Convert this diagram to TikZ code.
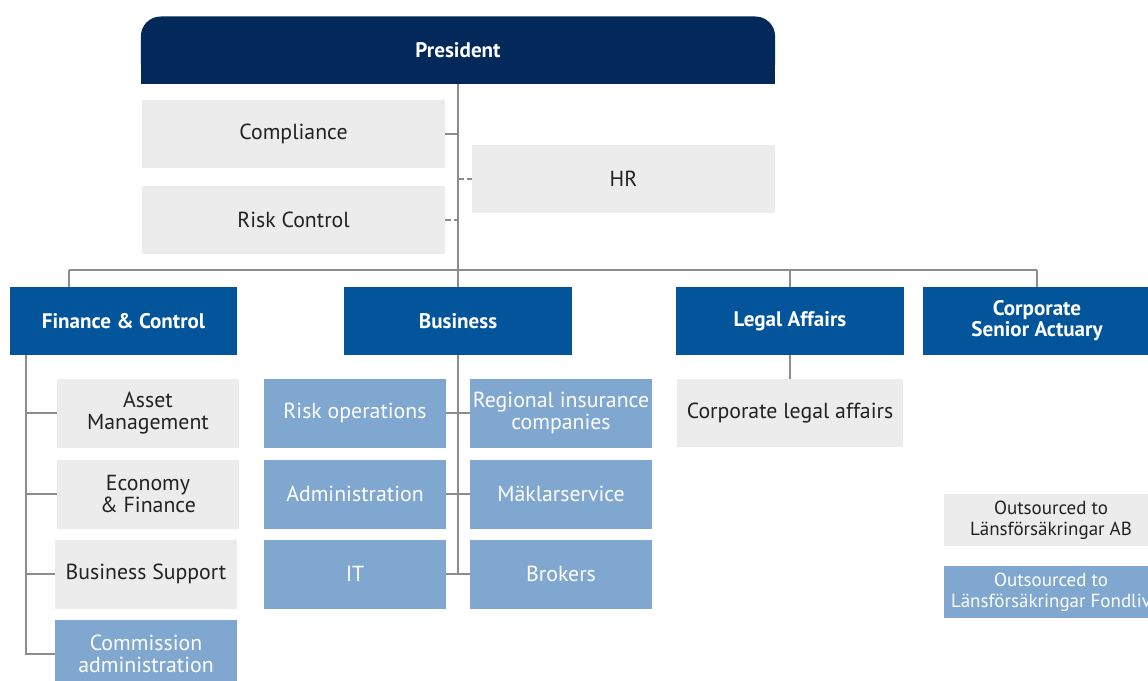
\documentclass[tikz,border=0pt]{standalone}
\usepackage{fontspec}
\setmainfont{PT Sans}
\usetikzlibrary{positioning}
\definecolor{PresNavy}{HTML}{03295A}
\definecolor{UnitBlue}{HTML}{02549B}
\definecolor{OutBlue}{HTML}{7FA7D0}
\definecolor{StaffGrey}{HTML}{ECECEC}
\definecolor{LinkGrey}{HTML}{8C8C8C}
\definecolor{Ink}{HTML}{222222}

\tikzset{
  unit/.style={
    fill=UnitBlue,
    text=white,
    font=\bfseries\fontsize{15}{15}\selectfont,
    align=center,
    inner sep=0pt,
    minimum width=5.675cm,
    minimum height=1.7cm
  },
  staff/.style={
    fill=StaffGrey,
    text=Ink,
    font=\fontsize{15.5}{15.5}\selectfont,
    align=center,
    inner sep=0pt,
    minimum width=4.55cm,
    minimum height=1.725cm
  },
  outsourced/.style={
    staff,
    fill=OutBlue,
    text=white
  },
  keybox/.style={
    font=\fontsize{13.5}{15}\selectfont,
    minimum width=5.35cm,
    minimum height=1.3cm
  },
  link/.style={draw=LinkGrey, line width=1.6pt},
  dottedlink/.style={link, dash pattern=on 4pt off 2.5pt}
}

\begin{document}
\begin{tikzpicture}[x=0.025cm, y=-0.025cm]
  \useasboundingbox (0,0) rectangle (1148,680);
  \clip (0,0) rectangle (1148,680);

  % top of the tree
  \node[fill=PresNavy, text=white, rounded corners=14pt, inner sep=0pt,
        minimum width=15.85cm, minimum height=1.675cm,
        font=\bfseries\fontsize{15}{15}\selectfont] (pres) at (458,50) {President};
  \fill[PresNavy] (pres.south west) rectangle ([yshift=15pt]pres.south east);

  % staff functions
  \node[staff, minimum width=7.575cm, minimum height=1.7cm] (comp) at (293.5,134) {Compliance};
  \node[staff, minimum width=7.575cm, minimum height=1.7cm] (riskctl) at (293.5,220) {Risk Control};
  \node[staff, minimum width=7.575cm, minimum height=1.7cm] (hr) at (623.5,179) {HR};

  % business areas
  \node[unit] (fin) at (123.5,321) {Finance \& Control};
  \node[unit] (biz) at (458,321) {Business};
  \node[unit] (legal) at (790,321) {Legal Affairs};
  \node[unit] (actuary) at (1037,321) {Corporate\\Senior Actuary};

  % finance & control
  \node[staff] (asset) at (148,413) {Asset\\Management};
  \node[staff] (econ) at (148,494) {Economy\\\& Finance};
  \node[staff] (support) at (146,574) {Business Support};
  \node[outsourced] (comm) at (146,654) {Commission\\administration};

  % business
  \node[outsourced] (riskop) at (355,413) {Risk operations};
  \node[outsourced] (admin) at (355,494) {Administration};
  \node[outsourced] (it) at (355,574) {IT};
  \node[outsourced] (regional) at (561,413) {Regional insurance\\companies};
  \node[outsourced] (maklar) at (561,494) {Mäklarservice};
  \node[outsourced] (brokers) at (561,574) {Brokers};

  % legal affairs
  \node[staff, minimum width=5.65cm, minimum height=1.7cm] (corplegal) at (790,413) {Corporate legal affairs};

  % key
  \node[staff, keybox] (keyab) at (1051,520) {Outsourced to\\Länsförsäkringar AB};
  \node[outsourced, keybox] (keyfl) at (1051,592) {Outsourced to\\Länsförsäkringar Fondliv};

  % connectors
  \coordinate (busL) at (69,270);
  \coordinate (busR) at (1037,270);
  \coordinate (finspine) at (26,654);
  \coordinate (bizspine) at (458,574);

  \draw[link] (pres.south) -- (biz.north);
  \draw[link] (busL) -- (busR);
  \draw[link] (busL) -- (busL |- fin.north);
  \draw[link] (legal.north |- busR) -- (legal.north);
  \draw[link] (busR) -- (actuary.north);
  \draw[link] (comp.east) -- (comp.east -| pres.south);
  \draw[dottedlink] (riskctl.east) -- (riskctl.east -| pres.south);
  \draw[dottedlink] (hr.west -| pres.south) -- (hr.west);

  \draw[link] (finspine |- fin.south) -- (finspine) -- (comm.west);
  \draw[link] (finspine |- asset.west) -- (asset.west);
  \draw[link] (finspine |- econ.west) -- (econ.west);
  \draw[link] (finspine |- support.west) -- (support.west);

  \draw[link] (biz.south) -- (bizspine);
  \draw[link] (riskop.east) -- (regional.west);
  \draw[link] (admin.east) -- (maklar.west);
  \draw[link] (it.east) -- (brokers.west);

  \draw[link] (legal.south) -- (corplegal.north);
\end{tikzpicture}
\end{document}
